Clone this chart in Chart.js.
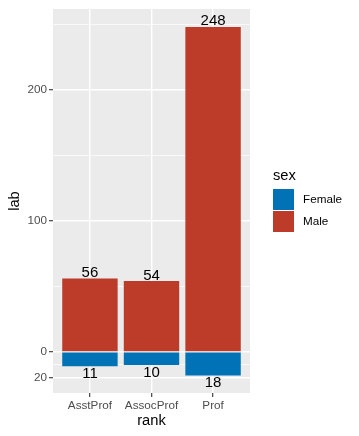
<!DOCTYPE html>
<html>
<head>
<meta charset="utf-8">
<script src="https://cdn.jsdelivr.net/npm/chart.js@4/dist/chart.umd.min.js"></script>
<style>
html,body{margin:0;padding:0;background:#fff;}
#wrap{width:359px;height:436px;position:relative;}
</style>
</head>
<body>
<div id="wrap"><canvas id="c" width="359" height="436"></canvas></div>
<script>
const categories = ["AsstProf", "AssocProf", "Prof"];
const femaleCounts = [11, 10, 18];
const maleCounts = [56, 54, 248];
const yMajorTicks = [-20, 0, 100, 200];
const yMinorTicks = [-10, 50, 150, 250];
const seriesNames = ["Female", "Male"];
const seriesColors = ["#0072B5", "#BC3C29"];

const FONT = "'Liberation Sans', Arial, sans-serif";

const femaleData = femaleCounts.map((v, i) => ({x: i + 1, y: -v}));
const maleData = maleCounts.map((v, i) => ({x: i + 1, y: v}));

const panelBg = {
  id: 'panelBg',
  beforeDraw(chart) {
    const {ctx, chartArea: a} = chart;
    ctx.save();
    ctx.fillStyle = '#EBEBEB';
    ctx.fillRect(a.left, a.top, a.right - a.left, a.bottom - a.top);
    ctx.restore();
  }
};

const extras = {
  id: 'extras',
  afterDraw(chart) {
    const {ctx, chartArea: a} = chart;
    const xs = chart.scales.x, ys = chart.scales.y;
    ctx.save();
    ctx.fillStyle = '#000';
    ctx.font = '15px ' + FONT;
    ctx.textAlign = 'center';
    maleCounts.forEach((v, i) => {
      ctx.textBaseline = 'alphabetic';
      ctx.fillText(String(v), xs.getPixelForValue(i + 1), ys.getPixelForValue(v) - 1.5);
    });
    femaleCounts.forEach((v, i) => {
      ctx.textBaseline = 'top';
      ctx.fillText(String(v), xs.getPixelForValue(i + 1), ys.getPixelForValue(-v));
    });
    ctx.font = '14.7px ' + FONT;
    ctx.textBaseline = 'middle';
    ctx.fillText('rank', (a.left + a.right) / 2, 421);
    ctx.save();
    ctx.translate(15, (a.top + a.bottom) / 2);
    ctx.rotate(-Math.PI / 2);
    ctx.fillText('lab', 0, 0);
    ctx.restore();
    ctx.textAlign = 'left';
    ctx.fillText('sex', 273, 176);
    const keyX = 273, keyY0 = 189, keySize = 21, gap = 1;
    seriesNames.forEach((name, i) => {
      const y = keyY0 + i * (keySize + gap);
      ctx.fillStyle = seriesColors[i];
      ctx.fillRect(keyX, y, keySize, keySize);
      ctx.fillStyle = '#000';
      ctx.font = '11.7px ' + FONT;
      ctx.fillText(name, 303, y + keySize / 2);
    });
    ctx.restore();
  }
};

new Chart(document.getElementById('c'), {
  type: 'bar',
  data: {
    datasets: [
      {label: seriesNames[0], data: femaleData, backgroundColor: seriesColors[0], borderWidth: 0},
      {label: seriesNames[1], data: maleData, backgroundColor: seriesColors[1], borderWidth: 0}
    ]
  },
  options: {
    responsive: false,
    animation: false,
    devicePixelRatio: 1,
    layout: {padding: {top: 7, right: 109, bottom: 0, left: 0}},
    barPercentage: 0.9,
    categoryPercentage: 1.0,
    plugins: {legend: {display: false}, tooltip: {enabled: false}},
    scales: {
      x: {
        type: 'linear',
        stacked: true,
        offset: false,
        min: 0.4,
        max: 3.6,
        afterBuildTicks: s => { s.ticks = categories.map((c, i) => ({value: i + 1})); },
        afterFit: s => { s.height = 43; },
        border: {display: false},
        grid: {offset: false, color: '#FFFFFF', lineWidth: 1.4, tickLength: 4, tickColor: '#333333', tickWidth: 1.1},
        ticks: {
          padding: 2,
          color: '#4D4D4D',
          font: {family: FONT, size: 11.7},
          maxRotation: 0,
          autoSkip: false,
          callback: v => categories[Math.round(v) - 1] || ''
        }
      },
      y: {
        type: 'linear',
        stacked: true,
        min: -31.4,
        max: 261.7,
        afterBuildTicks: s => {
          s.ticks = yMajorTicks.concat(yMinorTicks).sort((a, b) => a - b).map(v => ({value: v}));
        },
        afterFit: s => { s.width = 53; },
        border: {display: false},
        grid: {
          color: '#FFFFFF',
          lineWidth: c => yMajorTicks.includes(c.tick && c.tick.value) ? 1.4 : 0.7,
          tickLength: 4,
          tickColor: c => yMajorTicks.includes(c.tick && c.tick.value) ? '#333333' : 'rgba(0,0,0,0)',
          tickWidth: 1.1
        },
        ticks: {
          padding: 2,
          color: '#4D4D4D',
          font: {family: FONT, size: 11.7},
          autoSkip: false,
          callback: v => yMajorTicks.includes(v) ? String(Math.abs(v)) : ''
        }
      }
    }
  },
  plugins: [panelBg, extras]
});
</script>
</body>
</html>
